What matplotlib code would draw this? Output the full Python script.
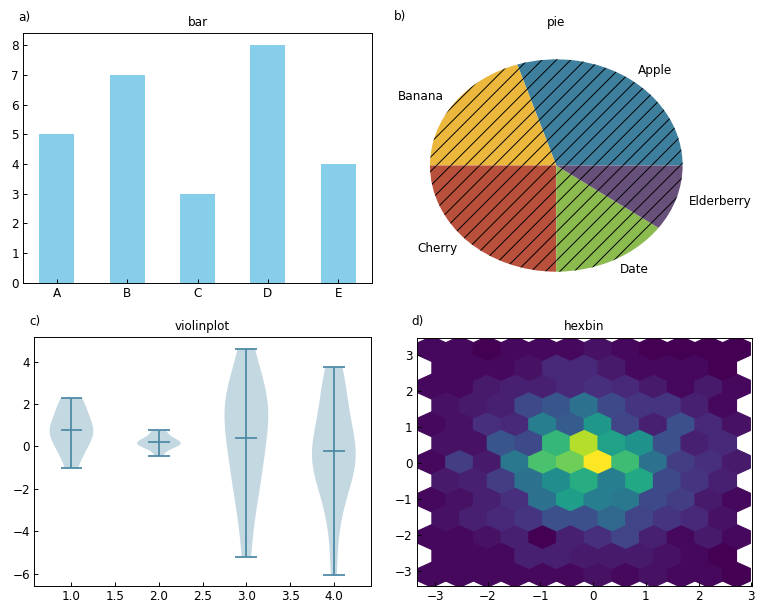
import numpy as np
import matplotlib
matplotlib.use('Agg')
import matplotlib.pyplot as plt

# a) bar
bar_labels = ['A', 'B', 'C', 'D', 'E']
bar_values = [5, 7, 3, 8, 4]

# b) pie
pie_labels = ['Apple', 'Banana', 'Cherry', 'Date', 'Elderberry']
pie_values = [30, 20, 25, 15, 10]
pie_colors = ['#3d7f9c', '#ebb73c', '#b8503b', '#8bba4f', '#67507a']

# c) violinplot samples
violin_1 = [-1.02, -0.5, -0.1, 0.15, 0.35, 0.6, 0.75, 0.8, 0.95, 1.2, 1.5, 1.85, 2.15, 2.27]
violin_2 = [-0.45, -0.02, 0.05, 0.1, 0.15, 0.18, 0.22, 0.35, 0.6, 0.78]
violin_3 = [-5.2, -3.1, -2.0, -1.2, -0.9, -0.2, 0.9, 1.2, 1.6, 1.9, 2.3, 2.5, 3.2, 4.61]
violin_4 = [-6.05, -3.6, -2.5, -1.8, -1.2, -0.9, -0.5, -0.4, -0.3, -0.2,
            0.1, 0.5, 1.5, 2.2, 2.7, 3.0, 3.72]

# d) hexbin: counts per cell, bottom row first
# full rows have 12 cells, offset rows 11 cells
hex_extent = (-3.06, 2.72, -3.106, 3.166)
hex_gridsize = 11
full_rows = [
    [1, 1, 1, 1, 1, 1, 2, 1, 2, 1, 1, 0],
    [1, 1, 2, 4, 0, 4, 6, 9, 4, 1, 3, 1],
    [1, 2, 4, 6, 17, 25, 19, 18, 10, 8, 3, 1],
    [1, 8, 3, 18, 32, 35, 45, 31, 17, 8, 6, 3],
    [1, 2, 6, 5, 19, 13, 24, 9, 4, 11, 5, 2],
    [1, 1, 3, 4, 4, 5, 6, 5, 3, 1, 3, 1],
    [1, 1, 0, 1, 1, 1, 2, 1, 0, 0, 0, 0],
]
offset_rows = [
    [1, 1, 1, 4, 4, 3, 3, 3, 2, 1, 0],
    [2, 4, 5, 7, 11, 11, 15, 9, 7, 5, 2],
    [3, 4, 8, 17, 22, 28, 19, 27, 10, 7, 4],
    [2, 2, 12, 10, 30, 40, 26, 23, 11, 4, 5],
    [2, 3, 4, 10, 12, 17, 10, 7, 7, 4, 1],
    [1, 1, 1, 2, 5, 5, 3, 1, 1, 1, 0],
]

plt.rcParams['xtick.direction'] = 'in'
plt.rcParams['ytick.direction'] = 'in'
plt.rcParams['hatch.linewidth'] = 0.8

W, H = 765, 615
DPI = 86.4
fig = plt.figure(figsize=(W / DPI, H / DPI), dpi=DPI)


def box(x0, y0, x1, y1):
    # pixel box (top-left origin) -> figure fraction
    return [x0 / W, 1 - y1 / H, (x1 - x0) / W, (y1 - y0) / H]


def panel(ax, letter):
    ax.annotate(letter, xy=(0, 1), xycoords='axes fraction', xytext=(-5, 16),
                textcoords='offset pixels', ha='left', va='center', fontsize=10)


# a) bar
ax = fig.add_axes(box(23.3, 33.3, 371.7, 282.7))
ax.bar(bar_labels, bar_values, width=0.5, color='skyblue')
ax.set_title('bar', fontsize=10)
panel(ax, 'a)')

# b) pie
ax = fig.add_axes(box(398.4, 32.75, 714.2, 298.25))
ax.pie(pie_values, labels=pie_labels, colors=pie_colors, hatch='//')
ax.set_aspect('auto')
ax.set_xlim(-1.25, 1.25)
ax.set_ylim(-1.25, 1.25)
ax.set_title('pie', fontsize=10)
panel(ax, 'b)')

# c) violinplot
ax = fig.add_axes(box(34.3, 337.3, 371, 586))
parts = ax.violinplot([violin_1, violin_2, violin_3, violin_4], showmeans=True)
for body in parts['bodies']:
    body.set_facecolor('#3d7f9c')
    body.set_alpha(0.3)
for key in ['cmeans', 'cmins', 'cmaxes', 'cbars']:
    parts[key].set_color('#4f8aa6')
    parts[key].set_linewidth(1.5)
ax.set_title('violinplot', fontsize=10)
panel(ax, 'c)')

# d) hexbin
ax = fig.add_axes(box(416.7, 337.7, 751.7, 586))
xmin, xmax, ymin, ymax = hex_extent
nx = hex_gridsize
ny = len(offset_rows)
sx = (xmax - xmin) / nx
sy = (ymax - ymin) / ny
xs, ys = [], []
for j, row in enumerate(full_rows):
    cx = xmin + np.arange(nx + 1) * sx
    xs.append(np.repeat(cx, row))
    ys.append(np.full(sum(row), ymin + j * sy))
for j, row in enumerate(offset_rows):
    cx = xmin + (np.arange(nx) + 0.5) * sx
    xs.append(np.repeat(cx, row))
    ys.append(np.full(sum(row), ymin + (j + 0.5) * sy))
ax.hexbin(np.concatenate(xs), np.concatenate(ys), gridsize=nx,
          extent=hex_extent, cmap='viridis')
ax.set_title('hexbin', fontsize=10)
panel(ax, 'd)')

fig.savefig('out.png', dpi=DPI)
